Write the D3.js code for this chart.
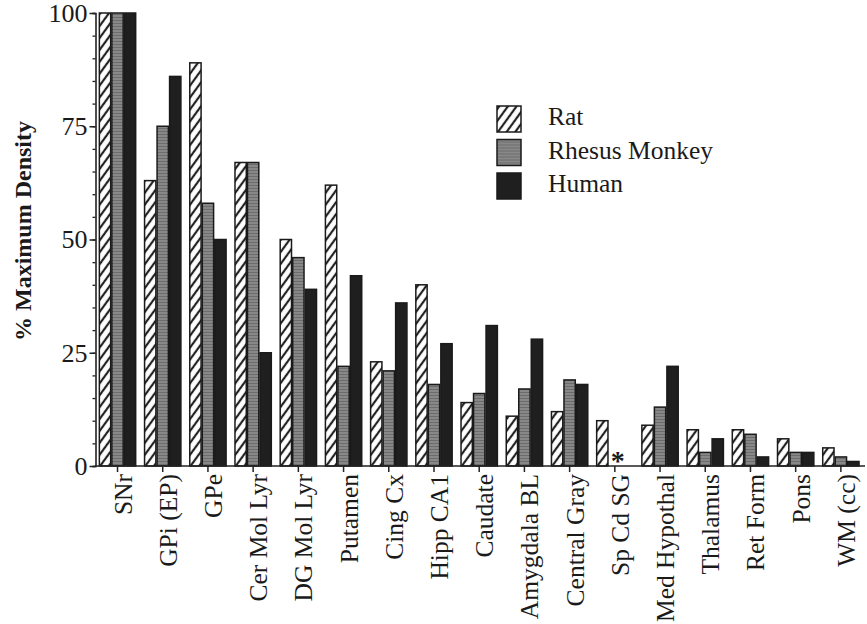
<!DOCTYPE html>
<html>
<head>
<meta charset="utf-8">
<script src="https://cdn.jsdelivr.net/npm/d3@7/dist/d3.min.js"></script>
<style>
  html, body { margin: 0; padding: 0; background: #fff; }
  svg { display: block; }
  text { font-family: "Liberation Serif", "Times New Roman", serif; fill: #1a1a1a; }
</style>
</head>
<body>
<svg id="chart" width="867" height="624"></svg>
<script>
const categories = ["SNr", "GPi (EP)", "GPe", "Cer Mol Lyr", "DG Mol Lyr", "Putamen", "Cing Cx", "Hipp CA1",
  "Caudate", "Amygdala BL", "Central Gray", "Sp Cd SG", "Med Hypothal", "Thalamus", "Ret Form", "Pons", "WM (cc)"];
const seriesNames = ["Rat", "Rhesus Monkey", "Human"];
const rat    = [100, 63, 89, 67, 50, 62, 23, 40, 14, 11, 12, 10, 9, 8, 8, 6, 4];
const monkey = [100, 75, 58, 67, 46, 22, 21, 18, 16, 17, 19, null, 13, 3, 7, 3, 2];
const human  = [100, 86, 50, 25, 39, 42, 36, 27, 31, 28, 18, null, 22, 6, 2, 3, 1];
const yTicks = [0, 25, 50, 75, 100];
const missingMark = { category: "Sp Cd SG", series: "Rhesus Monkey", symbol: "*" };

const values = [rat, monkey, human];
const svg = d3.select("#chart");

const defs = svg.append("defs");
const hatch = defs.append("pattern").attr("id", "hatchRat")
  .attr("patternUnits", "userSpaceOnUse").attr("width", 7).attr("height", 7)
  .attr("patternTransform", "rotate(36)");
hatch.append("rect").attr("width", 7).attr("height", 7).attr("fill", "#fff");
hatch.append("line").attr("x1", 2).attr("y1", 0).attr("x2", 2).attr("y2", 7)
  .attr("stroke", "#222").attr("stroke-width", 2.2);

const grayPat = defs.append("pattern").attr("id", "grayMonkey")
  .attr("patternUnits", "userSpaceOnUse").attr("width", 4).attr("height", 3);
grayPat.append("rect").attr("width", 4).attr("height", 3).attr("fill", "#888888");
grayPat.append("rect").attr("y", 2).attr("width", 4).attr("height", 1).attr("fill", "#6c6c6c");

const fills = ["url(#hatchRat)", "url(#grayMonkey)", "#1f1f1f"];

const x0 = d3.scaleBand().domain(categories).range([97.4, 861]).paddingInner(0.17).paddingOuter(0.03);
const x1 = d3.scaleBand().domain(seriesNames).range([0, x0.bandwidth()]);
const y = d3.scaleLinear().domain([0, 100]).range([466, 13]);

// bars
const groups = svg.append("g").selectAll("g").data(categories).join("g")
  .attr("transform", d => `translate(${x0(d)},0)`);
groups.selectAll("rect")
  .data((c, i) => seriesNames.map((s, k) => ({ s, k, v: values[k][i] })).filter(d => d.v != null))
  .join("rect")
  .attr("x", d => x1(d.s) + 0.6)
  .attr("width", x1.bandwidth() - 1.2)
  .attr("y", d => y(d.v))
  .attr("height", d => y(0) - y(d.v))
  .attr("fill", d => fills[d.k])
  .attr("stroke", "#1a1a1a").attr("stroke-width", 1.5);

// missing marker
svg.append("text")
  .attr("x", x0(missingMark.category) + x1(missingMark.series) + x1.bandwidth() / 2 + 3)
  .attr("y", y(0) + 4)
  .attr("text-anchor", "middle")
  .attr("font-size", 28).attr("font-weight", "bold")
  .text(missingMark.symbol);

// y axis
const yAxis = svg.append("g").attr("transform", "translate(95.5,0)");
yAxis.call(d3.axisLeft(y).tickValues(d3.range(0, 101, 5)).tickSize(3).tickFormat(""));
yAxis.call(g => g.selectAll(".tick line").attr("stroke", "#222").attr("stroke-width", 1.3));
yAxis.select(".domain").attr("stroke", "#222").attr("stroke-width", 1.6);
const yMajor = svg.append("g").attr("transform", "translate(95.5,0)")
  .call(d3.axisLeft(y).tickValues(yTicks).tickSize(6).tickPadding(2).tickFormat(d3.format("d")));
yMajor.select(".domain").remove();
yMajor.selectAll(".tick line").attr("stroke", "#222").attr("stroke-width", 1.5);
yMajor.selectAll(".tick text").attr("font-size", 26).attr("fill", "#1a1a1a")
  .style("font-family", "'Liberation Serif', serif");

// x axis baseline and ticks
const xAxis = svg.append("g").attr("transform", "translate(0,466)");
xAxis.append("line").attr("x1", 95).attr("x2", 865).attr("stroke", "#222").attr("stroke-width", 1.6);
xAxis.selectAll("line.tk").data(categories).join("line").attr("class", "tk")
  .attr("x1", d => x0(d) + x0.bandwidth() / 2).attr("x2", d => x0(d) + x0.bandwidth() / 2)
  .attr("y1", 0).attr("y2", 6).attr("stroke", "#222").attr("stroke-width", 1.5);
xAxis.selectAll("text").data(categories).join("text")
  .attr("transform", d => `translate(${x0(d) + x0.bandwidth() / 2},8) rotate(-90)`)
  .attr("dy", 14)
  .attr("text-anchor", "end")
  .attr("font-size", 25.5)
  .text(d => d);

// y label
svg.append("text")
  .attr("transform", "translate(31,231) rotate(-90)")
  .attr("text-anchor", "middle")
  .attr("font-size", 24).attr("font-weight", "bold")
  .text("% Maximum Density");

// legend
const legend = svg.append("g").attr("transform", "translate(497,106)");
const li = legend.selectAll("g").data(seriesNames).join("g")
  .attr("transform", (d, i) => `translate(0,${i * 33.5})`);
li.append("rect").attr("width", 24).attr("height", 26)
  .attr("fill", (d, i) => fills[i]).attr("stroke", "#1a1a1a").attr("stroke-width", 1.5);
li.append("text").attr("x", 51).attr("y", 19).attr("font-size", 25.5).text(d => d);
</script>
</body>
</html>
